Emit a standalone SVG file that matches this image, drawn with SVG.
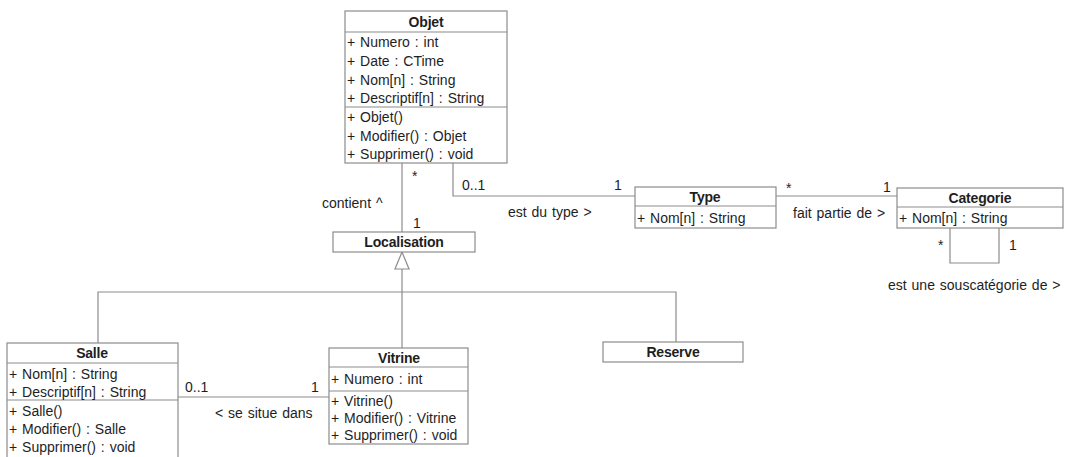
<svg xmlns="http://www.w3.org/2000/svg" width="1070" height="457" viewBox="0 0 1070 457">
  <style>
    .box { fill: #ffffff; stroke: #8c8c8c; stroke-width: 1.2; }
    .sep { stroke: #8c8c8c; stroke-width: 1.2; }
    .link { fill: none; stroke: #8c8c8c; stroke-width: 1.2; }
    text { font-family: "Liberation Sans", Arial, sans-serif; font-size: 14px; fill: #1e1e1e; letter-spacing: 0px; word-spacing: 1px; }
    .title { font-weight: bold; text-anchor: middle; letter-spacing: -0.2px; }
  </style>
  <rect width="1070" height="457" fill="#ffffff"/>

  <!-- connectors -->
  <g id="connectors">
    <!-- Objet * — 1 Localisation -->
    <line class="link" x1="402" y1="163" x2="402" y2="232"/>
    <text x="412" y="181">*</text>
    <text x="322" y="208">contient ^</text>
    <text x="413" y="228">1</text>
    <!-- Objet 0..1 — 1 Type -->
    <polyline class="link" points="453,163 453,196 635,196"/>
    <text x="462" y="190">0..1</text>
    <text x="614" y="190">1</text>
    <text x="508" y="217">est du type &gt;</text>
    <!-- Type * — 1 Categorie -->
    <line class="link" x1="776" y1="196" x2="897" y2="196"/>
    <text x="786" y="193">*</text>
    <text x="883" y="192">1</text>
    <text x="793" y="218">fait partie de &gt;</text>
    <!-- Categorie self association -->
    <polyline class="link" points="950,228 950,263 999,263 999,228"/>
    <text x="938" y="250">*</text>
    <text x="1009" y="250">1</text>
    <text x="888" y="290">est une souscatégorie de &gt;</text>
    <!-- generalisation towards Localisation -->
    <polyline class="link" points="98,343 98,292 676,292 676,342"/>
    <line class="link" x1="402" y1="269" x2="402" y2="348"/>
    <polygon points="402,252 395,269 409,269" fill="#ffffff" stroke="#8c8c8c" stroke-width="1.2"/>
    <!-- Salle 0..1 — 1 Vitrine -->
    <line class="link" x1="178" y1="397" x2="329" y2="397"/>
    <text x="185" y="392">0..1</text>
    <text x="311" y="392">1</text>
    <text x="215" y="418">&lt; se situe dans</text>
  </g>

  <!-- Objet -->
  <g id="objet">
    <rect class="box" x="345" y="11" width="162" height="152"/>
    <line class="sep" x1="345" y1="32" x2="507" y2="32"/>
    <line class="sep" x1="345" y1="107" x2="507" y2="107"/>
    <text class="title" x="426" y="27">Objet</text>
    <text x="347" y="47">+ Numero : int</text>
    <text x="347" y="66">+ Date : CTime</text>
    <text x="347" y="85">+ Nom[n] : String</text>
    <text x="347" y="103">+ Descriptif[n] : String</text>
    <text x="347" y="122">+ Objet()</text>
    <text x="347" y="141">+ Modifier() : Objet</text>
    <text x="347" y="159">+ Supprimer() : void</text>
  </g>

  <!-- Localisation -->
  <g id="localisation">
    <rect class="box" x="333" y="232" width="142" height="20"/>
    <text class="title" x="404" y="247">Localisation</text>
  </g>

  <!-- Type -->
  <g id="type">
    <rect class="box" x="635" y="187" width="141" height="41"/>
    <line class="sep" x1="635" y1="206" x2="776" y2="206"/>
    <text class="title" x="705" y="202">Type</text>
    <text x="637" y="223">+ Nom[n] : String</text>
  </g>

  <!-- Categorie -->
  <g id="categorie">
    <rect class="box" x="897" y="188" width="166" height="40"/>
    <line class="sep" x1="897" y1="207" x2="1063" y2="207"/>
    <text class="title" x="980" y="203">Categorie</text>
    <text x="899" y="223">+ Nom[n] : String</text>
  </g>

  <!-- Salle -->
  <g id="salle">
    <rect class="box" x="7" y="343" width="171" height="116"/>
    <line class="sep" x1="7" y1="363" x2="178" y2="363"/>
    <line class="sep" x1="7" y1="400" x2="178" y2="400"/>
    <text class="title" x="92" y="358">Salle</text>
    <text x="9" y="379">+ Nom[n] : String</text>
    <text x="9" y="397">+ Descriptif[n] : String</text>
    <text x="9" y="416">+ Salle()</text>
    <text x="9" y="434">+ Modifier() : Salle</text>
    <text x="9" y="452">+ Supprimer() : void</text>
  </g>

  <!-- Vitrine -->
  <g id="vitrine">
    <rect class="box" x="329" y="348" width="139" height="96"/>
    <line class="sep" x1="329" y1="367" x2="468" y2="367"/>
    <line class="sep" x1="329" y1="391" x2="468" y2="391"/>
    <text class="title" x="399" y="363">Vitrine</text>
    <text x="331" y="384">+ Numero : int</text>
    <text x="331" y="406">+ Vitrine()</text>
    <text x="331" y="423">+ Modifier() : Vitrine</text>
    <text x="331" y="440">+ Supprimer() : void</text>
  </g>

  <!-- Reserve -->
  <g id="reserve">
    <rect class="box" x="603" y="342" width="140" height="20"/>
    <text class="title" x="673" y="357">Reserve</text>
  </g>
</svg>
